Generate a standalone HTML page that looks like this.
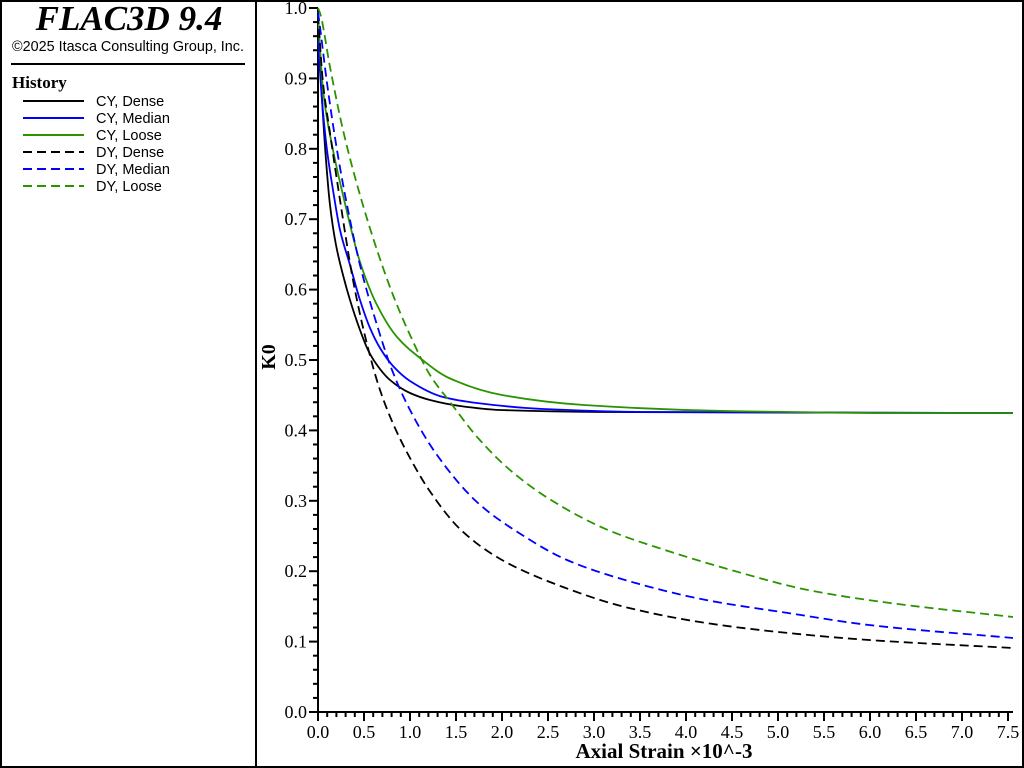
<!DOCTYPE html>
<html><head><meta charset="utf-8"><style>
html,body{margin:0;padding:0;background:#fff;width:1024px;height:768px;overflow:hidden}
svg{display:block}
.t{font-family:"Liberation Serif",serif;font-size:18px;fill:#000}
.s{font-family:"Liberation Sans",sans-serif;font-size:14.5px;fill:#000}
</style></head><body>
<svg id="g" width="1024" height="768" viewBox="0 0 1024 768" xmlns="http://www.w3.org/2000/svg">
<rect x="1" y="1" width="1022" height="766" fill="none" stroke="#000" stroke-width="2"/>
<line x1="256" y1="0" x2="256" y2="768" stroke="#000" stroke-width="2"/>
<text x="129" y="30" text-anchor="middle" font-family="Liberation Serif,serif" font-size="35" font-weight="bold" font-style="italic">FLAC3D 9.4</text>
<text x="128" y="51" text-anchor="middle" class="s" textLength="232" lengthAdjust="spacingAndGlyphs">©2025 Itasca Consulting Group, Inc.</text>
<line x1="11" y1="64" x2="245" y2="64" stroke="#000" stroke-width="2"/>
<text x="12" y="88" font-family="Liberation Serif,serif" font-size="17" font-weight="bold">History</text>
<g stroke-width="2">
<line x1="23" y1="101" x2="84" y2="101" stroke="#000"/>
<line x1="23" y1="118" x2="84" y2="118" stroke="#0000ff"/>
<line x1="23" y1="135" x2="84" y2="135" stroke="#2a9400"/>
<line x1="23" y1="152" x2="84" y2="152" stroke="#000" stroke-dasharray="9,5"/>
<line x1="23" y1="169" x2="84" y2="169" stroke="#0000ff" stroke-dasharray="9,5"/>
<line x1="23" y1="186" x2="84" y2="186" stroke="#2a9400" stroke-dasharray="9,5"/>
</g>
<g class="s">
<text x="96" y="106">CY, Dense</text>
<text x="96" y="123">CY, Median</text>
<text x="96" y="140">CY, Loose</text>
<text x="96" y="157">DY, Dense</text>
<text x="96" y="174">DY, Median</text>
<text x="96" y="191">DY, Loose</text>
</g>
<g id="axes" stroke="#000" stroke-width="2">
<line x1="318" y1="8" x2="318" y2="713"/>
<line x1="317" y1="712" x2="1013" y2="712"/>
</g>
<g id="curves" fill="none" stroke-width="1.8"></g>
<text x="664" y="758" text-anchor="middle" font-family="Liberation Serif,serif" font-size="21" font-weight="bold">Axial Strain ×10^-3</text>
<text transform="translate(275,357) rotate(-90)" text-anchor="middle" font-family="Liberation Serif,serif" font-size="20" font-weight="bold">K0</text>
</svg>
<script>
var svg=document.getElementById('g'),NS="http://www.w3.org/2000/svg";
function el(t,a,p,txt){var e=document.createElementNS(NS,t);for(var k in a)e.setAttribute(k,a[k]);if(txt!==undefined)e.textContent=txt;(p||svg).appendChild(e);return e;}
var ax=document.getElementById('axes');
var x0=318,dx=92,y0=712,dy=70.4;
for(var i=0;i<=75;i++){var x=x0+i*dx/10;var maj=i%5==0;el('line',{x1:x,y1:712,x2:x,y2:maj?721:717},ax);
 if(maj)el('text',{x:x,y:738,'text-anchor':'middle','class':'t'},svg,(i/10).toFixed(1));}
for(var i=0;i<=50;i++){var y=y0-i*dy/5;var maj=i%5==0;el('line',{x1:maj?309:313,y1:y,x2:318,y2:y},ax);
 if(maj)el('text',{x:307,y:y+6,'text-anchor':'end','class':'t'},svg,(i/50).toFixed(1));}
var cv=document.getElementById('curves');
// monotone cubic (Fritsch-Carlson) in parametric form by arc index; use x as param
function path(p){var n=p.length,d=[],m=[];
 for(var i=0;i<n-1;i++)d.push((p[i+1][1]-p[i][1])/(p[i+1][0]-p[i][0]));
 m[0]=d[0];m[n-1]=d[n-2];
 for(var i=1;i<n-1;i++){if(d[i-1]*d[i]<=0)m[i]=0;else{var h0=p[i][0]-p[i-1][0],h1=p[i+1][0]-p[i][0];var w1=2*h1+h0,w2=h1+2*h0;m[i]=(w1+w2)/(w1/d[i-1]+w2/d[i]);}}
 var s="M"+p[0][0]+","+p[0][1];
 for(var i=0;i<n-1;i++){var h=p[i+1][0]-p[i][0];
  s+=" C"+(p[i][0]+h/3)+","+(p[i][1]+m[i]*h/3)+" "+(p[i+1][0]-h/3)+","+(p[i+1][1]-m[i+1]*h/3)+" "+p[i+1][0]+","+p[i+1][1];}
 return s;}
var G="#2a9400",B="#0000ff",K="#000";
var S=[
[K,0,[[318,30],[322,100],[326,160],[330,205],[336,245],[343,275],[350,300],[360,330],[368,350],[377,365],[390,380],[410,393],[430,400],[460,406],[500,410],[600,412],[1013,413]]],
[B,0,[[318,40],[322,100],[327,150],[333,190],[340,230],[350,265],[360,300],[370,328],[380,348],[393,366],[410,381],[443,397],[477,403],[543,409],[650,412],[1013,413]]],
[G,0,[[318,15],[323,90],[333,150],[343,195],[360,262],[377,305],[397,337],[420,358],[449,378],[502,395],[584,405],[726,411],[900,413],[1013,413]]],
[K,1,[[318,15],[323,83],[330,133],[340,200],[353,280],[366,340],[380,390],[395,428],[410,458],[429,490],[461,530],[502,560],[563,587],[625,607],[706,623],[788,633],[869,640],[1013,648]]],
[B,1,[[318,12],[320,27],[327,83],[337,150],[347,205],[360,265],[377,325],[392,370],[410,410],[437,455],[478,503],[519,533],[567,560],[625,580],[706,600],[788,613],[869,625],[1013,638]]],
[G,1,[[318,8],[320,13],[330,67],[343,130],[360,195],[377,250],[393,295],[410,335],[430,375],[450,402],[478,438],[510,470],[551,500],[608,530],[665,550],[731,570],[808,590],[890,603],[1013,617]]]
];
S.forEach(function(s){var a={d:path(s[2]),stroke:s[0]};if(s[1])a['stroke-dasharray']='9,5';el('path',a,cv);});
</script>
</body></html>
